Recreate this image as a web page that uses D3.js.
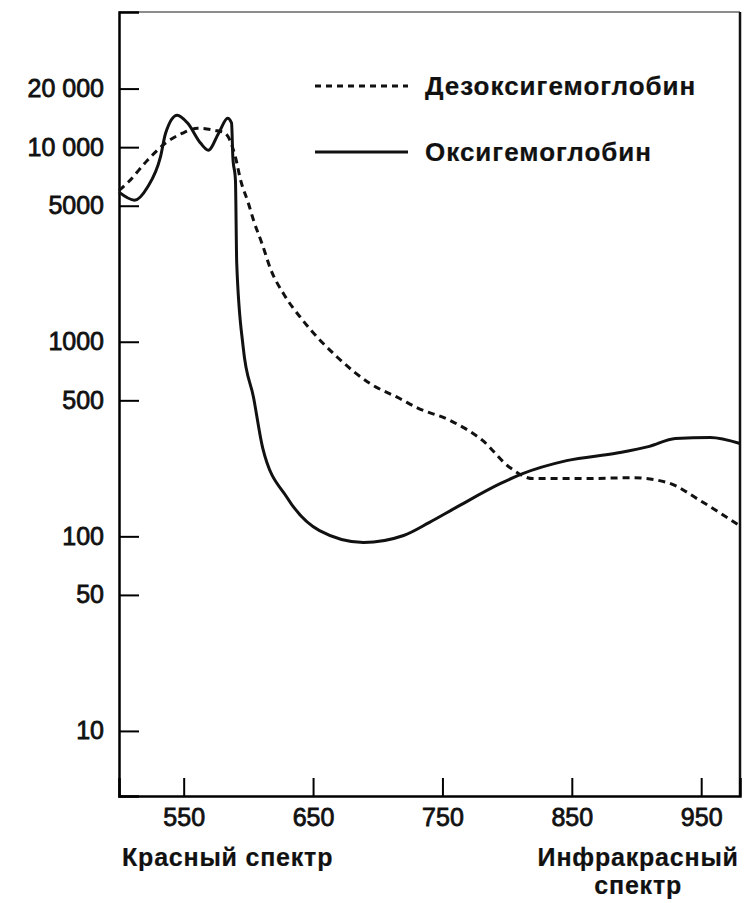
<!DOCTYPE html>
<html>
<head>
<meta charset="utf-8">
<script src="https://cdn.jsdelivr.net/npm/d3@7"></script>
<style>
  body { margin: 0; background: #fff; }
  text { font-family: 'Liberation Sans', Arial, sans-serif; fill: #111; }
</style>
</head>
<body>
<svg id="chart"></svg>
<script>
// wavelength (nm) and absorption values
const oxyWave = [500, 512, 522, 532, 536, 545, 553, 563, 569, 577, 584, 587, 588, 590, 591, 596, 604, 611, 630, 655, 689, 720, 740, 760, 795, 812, 846, 885, 910, 930, 957, 980];
const oxyValue = [5870, 5340, 6230, 8880, 11800, 14600, 13300, 10500, 9650, 11800, 14100, 13300, 8880, 6770, 2530, 935, 517, 286, 158, 107, 93, 101, 118, 140, 187, 210, 245, 268, 290, 318, 322, 300];

const deoxyWave = [500, 507, 522, 536, 549, 561, 574, 582, 590, 594, 600, 604, 611, 617, 628, 642, 669, 694, 717, 730, 756, 781, 802, 820, 859, 897, 924, 949, 980];
const deoxyValue = [6000, 6600, 8570, 10500, 11800, 12500, 12200, 11800, 8880, 6770, 5150, 4210, 3130, 2380, 1730, 1290, 830, 610, 511, 459, 394, 311, 226, 198, 198, 200, 189, 153, 113];

const xTicks = [550, 650, 750, 850, 950];
const yTicks = [20000, 10000, 5000, 1000, 500, 100, 50, 10];

const seriesNames = ['Дезоксигемоглобин', 'Оксигемоглобин'];
const xTitleLeft = 'Красный спектр';
const xTitleRight = ['Инфракрасный', 'спектр'];

const width = 750, height = 903;
const margin = { top: 12, right: 10, bottom: 107, left: 119 };
const w = width - margin.left - margin.right,
  h = height - margin.top - margin.bottom;

const svg = d3.select('#chart').attr('width', width).attr('height', height);
const g = svg.append('g').attr('transform', `translate(${margin.left},${margin.top})`);

const x = d3.scaleLinear().domain([500, 980]).range([0, w]);
const y = d3.scaleLog().domain([4.63, 49500]).range([h, 0]);

// frame: top edge is lighter in the scan
g.append('line')
  .attr('x1', 0).attr('x2', w)
  .attr('stroke', '#666')
  .attr('stroke-width', 1.5);
g.append('line')
  .attr('x1', w).attr('x2', w)
  .attr('y1', 0).attr('y2', h)
  .attr('stroke', '#111')
  .attr('stroke-width', 2.5);

const fmt = d => (d >= 10000 ? d3.format(',')(d).replace(',', ' ') : String(d));
const labelStyle = sel => sel.attr('font-size', 25).attr('stroke', '#111').attr('stroke-width', 0.8);

const yAxis = g.append('g')
  .call(d3.axisLeft(y).tickValues(yTicks).tickSize(-20).tickPadding(15).tickFormat(fmt));
yAxis.select('.domain').attr('stroke-width', 2.5);
yAxis.selectAll('.tick line').attr('stroke-width', 2);
yAxis.selectAll('text').call(labelStyle);

const xAxis = g.append('g')
  .attr('transform', `translate(0,${h})`)
  .call(d3.axisBottom(x).tickValues(xTicks).tickSize(-18).tickPadding(12).tickFormat(d3.format('d')));
xAxis.select('.domain').attr('stroke-width', 2.5);
xAxis.selectAll('.tick line').attr('stroke-width', 2);
xAxis.selectAll('text').call(labelStyle);

// axis titles
const titleStyle = sel => sel
  .attr('font-size', 25)
  .attr('font-weight', 'bold')
  .attr('letter-spacing', 0.8)
  .attr('stroke', '#111')
  .attr('stroke-width', 0.2);
g.append('text').attr('x', 3).attr('y', h + 70).text(xTitleLeft).call(titleStyle);
g.append('text').attr('x', x(950) - 63).attr('y', h + 70).attr('text-anchor', 'middle').text(xTitleRight[0]).call(titleStyle);
g.append('text').attr('x', x(950) - 63).attr('y', h + 98).attr('text-anchor', 'middle').text(xTitleRight[1]).call(titleStyle);

// curves
const line = d3.line()
  .x(d => x(d[0]))
  .y(d => y(d[1]))
  .curve(d3.curveMonotoneX);

const deoxy = d3.zip(deoxyWave, deoxyValue);
const oxy = d3.zip(oxyWave, oxyValue);

g.append('path')
  .datum(deoxy)
  .attr('d', line)
  .attr('fill', 'none')
  .attr('stroke', '#111')
  .attr('stroke-width', 3)
  .attr('stroke-dasharray', '7,5');

g.append('path')
  .datum(oxy)
  .attr('d', line)
  .attr('fill', 'none')
  .attr('stroke', '#111')
  .attr('stroke-width', 3);

// legend
const legend = g.append('g').attr('transform', 'translate(196,74)');
seriesNames.forEach((name, i) => {
  const row = legend.append('g').attr('transform', `translate(0,${i * 66})`);
  row.append('line')
    .attr('x1', 0).attr('x2', 93)
    .attr('stroke', '#111')
    .attr('stroke-width', 3)
    .attr('stroke-dasharray', i === 0 ? '6,5' : null);
  row.append('text')
    .attr('x', 110)
    .attr('y', 9)
    .attr('font-size', 26)
    .attr('font-weight', 'bold')
    .attr('letter-spacing', 1)
    .attr('stroke', '#111')
    .attr('stroke-width', 0.2)
    .text(name);
});
</script>
</body>
</html>
